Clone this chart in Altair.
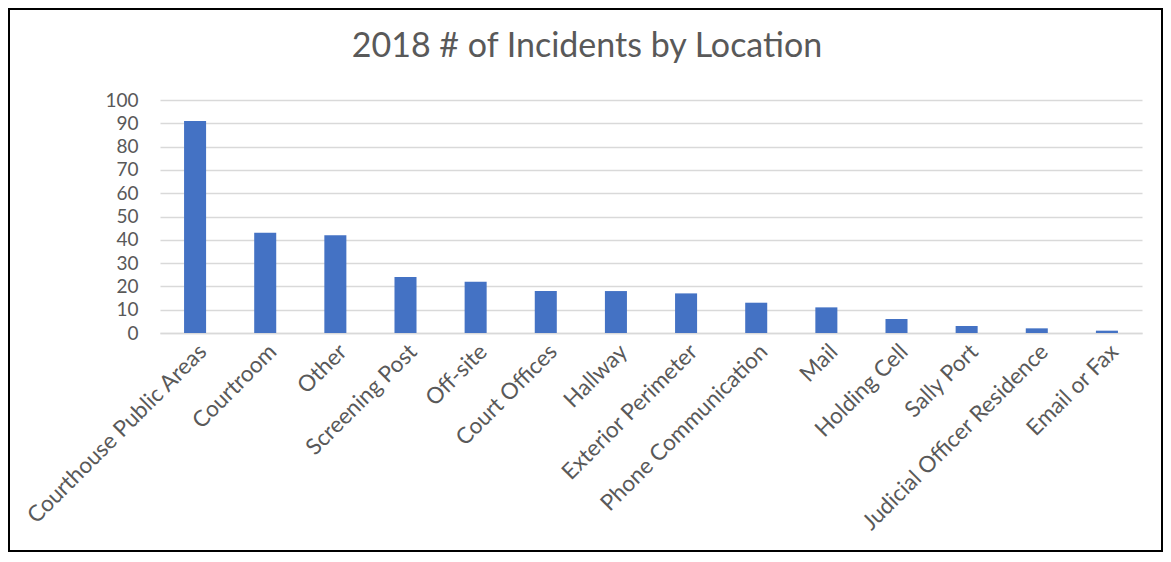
import altair as alt
import pandas as pd

categories = ["Courthouse Public Areas", "Courtroom", "Other", "Screening Post", "Off-site",
              "Court Offices", "Hallway", "Exterior Perimeter", "Phone Communication", "Mail",
              "Holding Cell", "Sally Port", "Judicial Officer Residence", "Email or Fax"]
values = [91, 43, 42, 24, 22, 18, 18, 17, 13, 11, 6, 3, 2, 1]
y_ticks = [0, 10, 20, 30, 40, 50, 60, 70, 80, 90, 100]

df = pd.DataFrame({"Location": categories, "Incidents": values})

FONT = "Lato"
GREY = "#595959"

bars = alt.Chart(df).mark_bar(color="#4472C4").encode(
    x=alt.X("Location:N", sort=categories,
            scale=alt.Scale(paddingInner=0.686, paddingOuter=0.343),
            axis=alt.Axis(title=None, labelAngle=-45, labelAlign="right", labelBaseline="top",
                          labelFontSize=22.5, labelColor=GREY, labelFont=FONT, labelPadding=7,
                          ticks=False, domain=True, domainColor="#d9d9d9", domainWidth=1.5,
                          labelLimit=400, labelOverlap=False)),
    y=alt.Y("Incidents:Q", scale=alt.Scale(domain=[0, 100], nice=False),
            axis=alt.Axis(title=None, values=y_ticks, labelFontSize=19, labelColor=GREY,
                          labelFont=FONT, labelPadding=22, ticks=False, domain=False,
                          gridColor="#d9d9d9", gridWidth=1.5)),
)

frame = alt.Chart(df).mark_rect(fill=None, stroke="black", strokeWidth=1.5).encode(
    x=alt.value(-151), x2=alt.value(982 + 20),
    y=alt.value(-91), y2=alt.value(233 + 218),
)

chart = alt.layer(bars, frame).properties(
    width=982, height=233,
    title=alt.TitleParams("2018 # of Incidents by Location", fontSize=34, font=FONT,
                          fontWeight="normal", color=GREY, anchor="middle", dx=-64, offset=-56),
    autosize=alt.AutoSizeParams(type="none"),
    padding={"left": 152, "top": 92, "right": 21, "bottom": 219},
).configure_view(stroke=None)

chart.save("out.html", embed_options={"renderer": "svg", "actions": False})
